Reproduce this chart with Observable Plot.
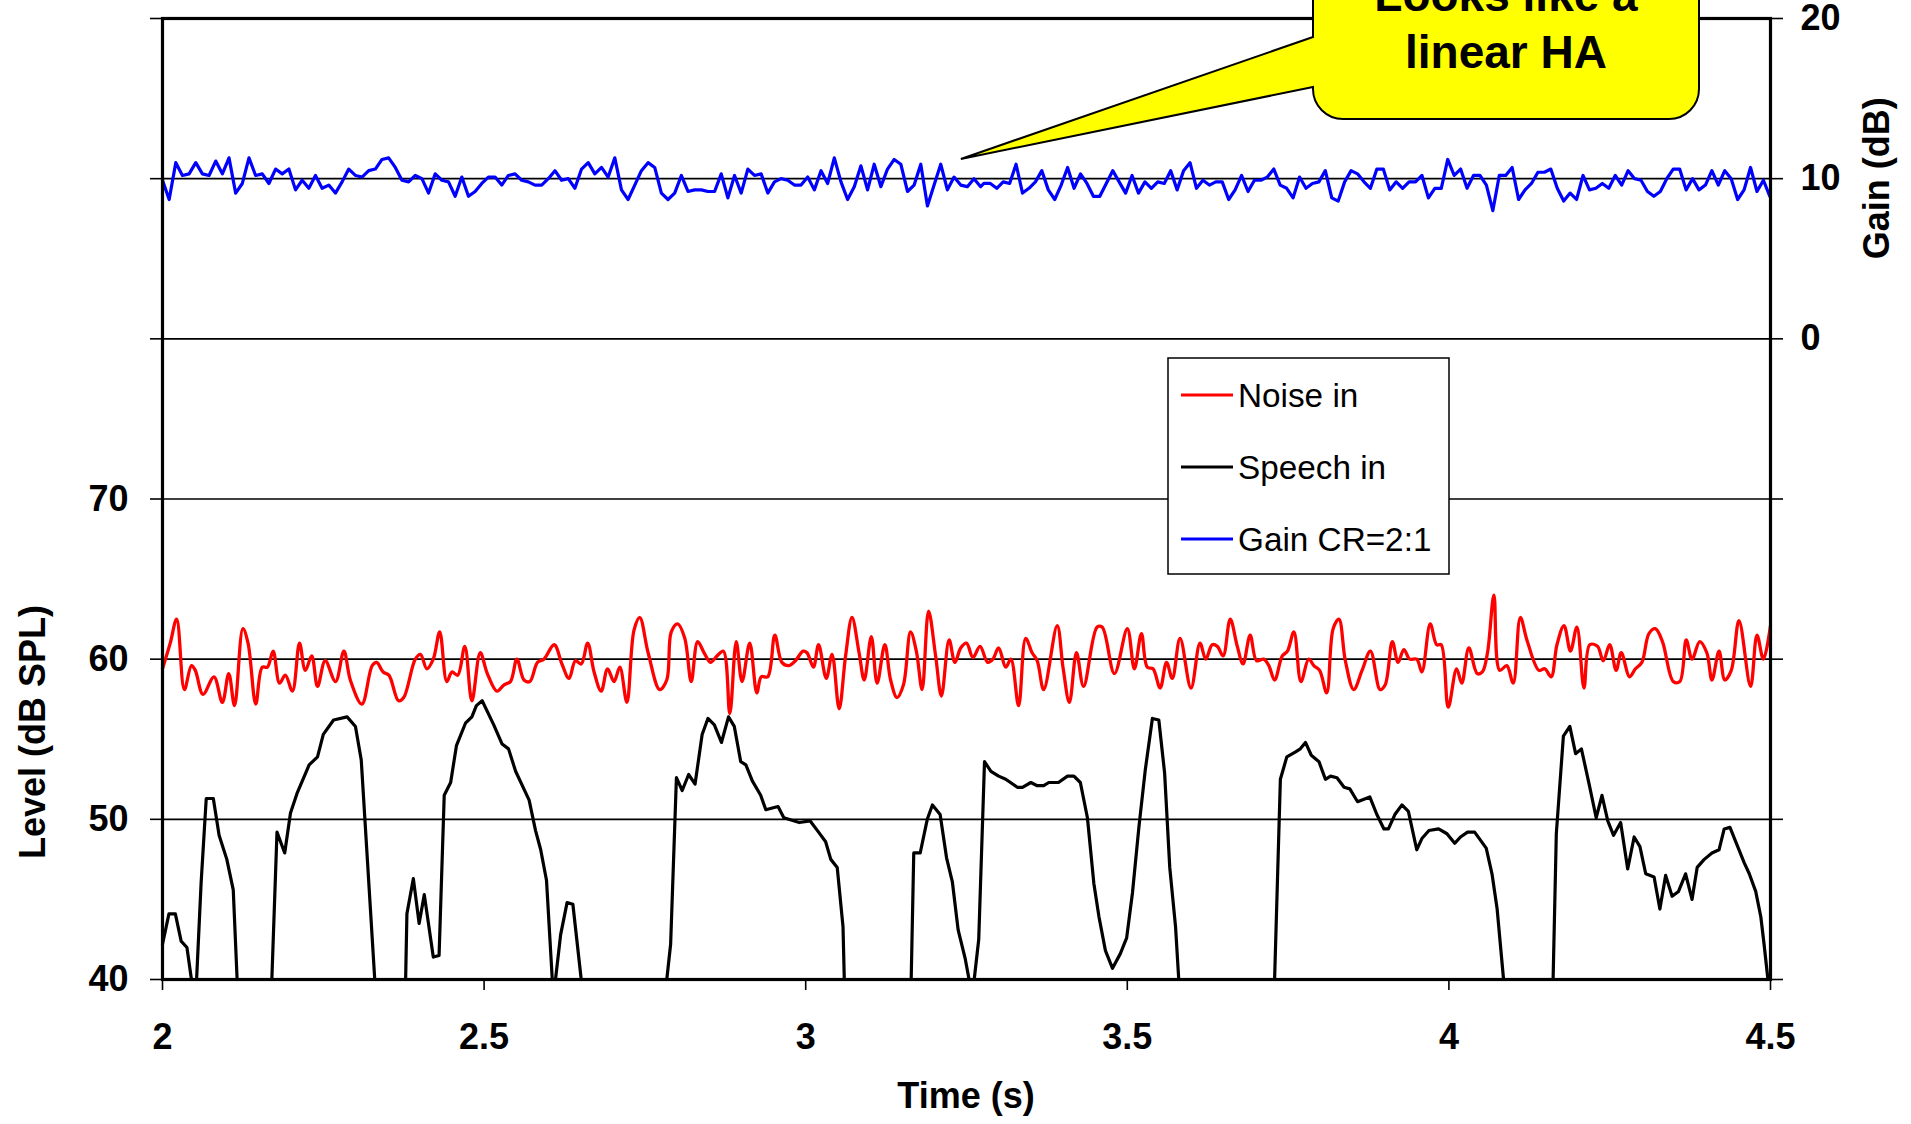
<!DOCTYPE html>
<html><head><meta charset="utf-8">
<script src="https://cdn.jsdelivr.net/npm/d3@7"></script>
<script src="https://cdn.jsdelivr.net/npm/@observablehq/plot@0.6"></script>
<style>
html,body{margin:0;padding:0;background:#fff;}
#chart svg{display:block;}
</style>
</head><body><div id="chart"></div>
<script>
// ---- data ----
const levelTicks = [40, 50, 60, 70];          // labelled ticks of the left axis (dB SPL)
const gainTicks = [0, 10, 20];                 // labelled ticks of the right axis (dB)
const timeTicks = [2, 2.5, 3, 3.5, 4, 4.5];    // x axis ticks (s)
const gridLevels = [50, 60, 70, 80, 90];
const gainOffset = 80;                          // 0 dB gain sits at 80 dB SPL

// Gain CR=2:1 (dB), sampled evenly over two spans
const gainASpan = [2.000, 3.272];
const gainA = [9.9,8.7,11.0,10.2,10.3,11.0,10.3,10.2,11.1,10.3,
11.3,9.1,9.7,11.3,10.2,10.3,9.7,10.6,10.3,10.6,
9.3,9.9,9.4,10.2,9.4,9.6,9.1,9.8,10.6,10.2,
10.1,10.5,10.6,11.2,11.3,10.7,9.9,9.8,10.2,10.0,
9.1,10.3,9.9,9.8,8.9,10.1,8.9,9.2,9.7,10.1,
10.1,9.6,10.2,10.3,9.9,9.8,9.6,9.6,10.0,10.5,
9.9,10.0,9.4,10.6,11.0,10.3,10.7,10.1,11.3,9.3,
8.7,9.6,10.5,11.0,10.7,9.1,8.7,9.1,10.2,9.2,
9.3,9.3,9.2,9.2,10.3,8.8,10.2,9.1,10.6,10.2,
10.3,9.1,9.8,10.0,9.9,9.6,9.6,10.1,9.3,10.5,
9.7,11.3,9.8,8.7,9.5,10.8,9.3,10.9,9.5,10.6,
11.2,10.9,9.2,9.6,10.9,8.3,9.6,10.9,9.3,10.1,
9.6,9.5,10.0,9.5];
const gainBSpan = [3.277, 4.499];
const gainB = [9.7,9.7,9.4,9.8,9.7,10.9,9.1,9.4,9.8,10.5,
9.3,8.7,9.6,10.7,9.4,10.3,9.7,8.9,8.9,9.7,
10.5,9.8,9.1,10.2,9.1,9.8,9.4,9.8,9.7,10.5,
9.3,10.5,11.0,9.4,9.9,9.6,9.8,9.8,8.7,9.3,
10.2,9.2,9.9,9.9,10.1,10.6,9.6,9.4,8.8,10.1,
9.4,9.7,9.8,10.5,8.8,8.6,9.8,10.5,10.3,9.8,
9.4,10.6,10.6,9.3,9.8,9.4,9.8,9.8,10.2,8.8,
9.4,9.4,11.2,10.2,10.6,9.4,10.2,10.2,9.6,8.0,
10.2,10.2,10.7,8.7,9.3,9.7,10.4,10.4,10.6,9.4,
8.6,9.1,8.7,10.2,9.3,9.4,9.7,9.4,10.2,9.6,
10.5,10.0,9.9,9.2,8.9,9.2,10.0,10.6,10.6,9.3,
10.0,9.3,9.6,10.5,9.6,10.5,10.0,8.7,9.3,10.7,
9.2,9.9,8.9];

// Noise in: [time s, level dB SPL] (turning points of the smoothed curve)
const noise = [[2.000,59.4],[2.012,61.0],[2.022,62.5],[2.034,58.1],[2.045,59.6],[2.051,59.3],[2.063,57.8],[2.080,58.9],[2.093,57.3],[2.103,59.1],
[2.112,57.1],[2.125,61.9],[2.133,61.0],[2.145,57.2],[2.155,59.5],[2.163,59.5],[2.172,60.5],[2.182,58.5],[2.191,59.0],[2.202,58.0],
[2.213,61.0],[2.222,59.3],[2.232,60.2],[2.241,58.3],[2.253,59.9],[2.269,58.6],[2.282,60.5],[2.292,58.7],[2.310,57.2],[2.326,59.6],
[2.333,59.8],[2.343,59.2],[2.352,59.0],[2.367,57.4],[2.375,57.6],[2.393,60.0],[2.401,60.3],[2.411,59.4],[2.421,60.0],[2.431,61.7],
[2.442,58.6],[2.450,59.2],[2.459,59.0],[2.470,60.8],[2.481,57.4],[2.494,60.4],[2.505,59.1],[2.520,58.0],[2.531,58.4],[2.541,58.6],
[2.551,60.0],[2.562,58.7],[2.571,58.6],[2.583,59.8],[2.593,60.0],[2.609,60.9],[2.621,59.7],[2.632,58.8],[2.642,59.9],[2.651,59.7],
[2.661,61.0],[2.671,59.2],[2.682,58.0],[2.692,59.4],[2.702,58.6],[2.711,59.5],[2.722,57.3],[2.733,61.8],[2.742,62.6],[2.755,60.4],
[2.773,58.1],[2.784,58.7],[2.791,61.7],[2.801,62.2],[2.812,61.3],[2.822,58.6],[2.832,61.1],[2.842,60.4],[2.852,59.8],[2.862,60.2],
[2.872,60.5],[2.882,56.6],[2.892,61.1],[2.901,58.6],[2.913,61.0],[2.924,57.9],[2.931,58.9],[2.941,58.9],[2.952,61.5],[2.963,59.8],
[2.974,59.6],[2.984,59.9],[2.996,60.5],[3.002,60.4],[3.012,59.5],[3.020,60.9],[3.032,58.8],[3.041,60.3],[3.052,56.9],[3.062,60.2],
[3.072,62.6],[3.083,60.4],[3.091,58.7],[3.102,61.4],[3.111,58.5],[3.123,60.9],[3.132,58.7],[3.142,57.6],[3.152,58.4],[3.163,61.7],
[3.172,60.5],[3.181,58.1],[3.191,63.0],[3.202,60.2],[3.211,57.7],[3.223,61.2],[3.232,59.8],[3.241,60.7],[3.250,61.0],[3.260,60.1],
[3.271,60.8],[3.283,59.8],[3.291,60.0],[3.300,60.7],[3.311,59.5],[3.319,60.0],[3.331,57.1],[3.342,61.3],[3.352,60.4],[3.360,59.9],
[3.370,58.1],[3.391,62.1],[3.400,59.5],[3.410,57.3],[3.421,60.4],[3.432,58.3],[3.453,62.0],[3.461,62.0],[3.480,59.1],[3.500,61.9],
[3.511,59.4],[3.522,61.6],[3.531,59.5],[3.540,59.4],[3.551,58.2],[3.561,59.8],[3.570,58.8],[3.582,61.3],[3.599,58.2],[3.613,61.0],
[3.622,60.0],[3.632,60.9],[3.640,60.8],[3.649,60.2],[3.660,62.5],[3.671,60.8],[3.680,59.7],[3.691,61.5],[3.701,59.9],[3.712,60.0],
[3.720,59.6],[3.729,58.7],[3.741,60.2],[3.749,60.5],[3.759,61.7],[3.770,58.6],[3.782,60.0],[3.790,59.6],[3.799,59.3],[3.810,57.9],
[3.820,61.9],[3.829,62.5],[3.839,59.9],[3.852,58.1],[3.865,59.3],[3.878,60.5],[3.893,58.1],[3.901,58.4],[3.912,61.1],[3.921,59.8],
[3.930,60.6],[3.939,60.0],[3.950,60.0],[3.958,59.2],[3.971,62.2],[3.981,60.9],[3.988,60.9],[3.999,57.0],[4.012,59.4],[4.020,58.5],
[4.031,60.7],[4.044,59.1],[4.052,59.2],[4.060,60.4],[4.070,64.0],[4.079,59.3],[4.090,59.6],[4.100,58.5],[4.111,62.6],[4.122,61.1],
[4.140,59.3],[4.149,59.4],[4.159,58.9],[4.168,60.9],[4.179,62.1],[4.189,60.5],[4.199,62.0],[4.210,58.2],[4.219,60.9],[4.231,60.8],
[4.240,59.9],[4.250,60.9],[4.260,59.3],[4.268,60.4],[4.281,58.9],[4.290,59.4],[4.300,59.8],[4.311,61.6],[4.321,61.9],[4.332,61.1],
[4.349,58.6],[4.359,58.6],[4.369,61.2],[4.378,60.0],[4.390,61.1],[4.401,60.4],[4.409,58.7],[4.420,60.5],[4.429,58.7],[4.439,59.3],
[4.451,62.4],[4.469,58.3],[4.479,61.5],[4.489,60.0],[4.500,62.1]];

// Speech in: [time s, level dB SPL]; 40 = floor of the axis
const speech = [[2.000,42.2],[2.010,44.1],[2.020,44.1],[2.029,42.4],[2.038,42.0],[2.045,40],[2.053,40],[2.060,46.0],[2.068,51.3],[2.079,51.3],
[2.088,49.0],[2.100,47.5],[2.110,45.6],[2.116,40],[2.170,40],[2.178,49.2],[2.190,47.9],[2.199,50.4],[2.209,51.6],[2.228,53.4],
[2.241,53.9],[2.250,55.3],[2.266,56.2],[2.287,56.4],[2.300,55.8],[2.309,53.7],[2.330,40],[2.378,40],[2.380,44.1],[2.390,46.3],
[2.399,43.5],[2.407,45.3],[2.421,41.4],[2.430,41.5],[2.438,51.5],[2.448,52.3],[2.457,54.6],[2.471,56.0],[2.481,56.4],[2.488,57.1],
[2.497,57.4],[2.515,55.9],[2.528,54.7],[2.538,54.4],[2.549,53.0],[2.570,51.2],[2.580,49.3],[2.588,48.1],[2.597,46.2],[2.606,40],
[2.611,40],[2.619,42.8],[2.629,44.8],[2.638,44.7],[2.651,40],[2.784,40],[2.790,42.2],[2.799,52.6],[2.808,51.8],[2.818,52.8],
[2.828,52.2],[2.839,55.3],[2.848,56.3],[2.858,55.9],[2.869,54.8],[2.880,56.4],[2.889,55.8],[2.899,53.6],[2.907,53.4],[2.917,52.4],
[2.930,51.5],[2.938,50.6],[2.957,50.8],[2.966,50.1],[2.990,49.8],[3.007,49.9],[3.020,49.2],[3.031,48.6],[3.039,47.5],[3.049,47.0],
[3.058,43.3],[3.060,40],[3.164,40],[3.168,47.9],[3.178,47.9],[3.189,50.0],[3.197,50.9],[3.209,50.3],[3.219,47.6],[3.228,46.1],
[3.237,43.1],[3.248,41.3],[3.254,40],[3.262,40],[3.269,42.5],[3.278,53.6],[3.288,53.0],[3.300,52.7],[3.311,52.5],[3.329,52.0],
[3.337,52.0],[3.350,52.3],[3.360,52.1],[3.370,52.1],[3.378,52.3],[3.393,52.3],[3.407,52.7],[3.417,52.7],[3.427,52.3],[3.438,50.1],
[3.448,46.0],[3.456,43.9],[3.466,41.8],[3.477,40.7],[3.489,41.6],[3.499,42.6],[3.508,45.4],[3.518,49.5],[3.528,53.1],[3.539,56.3],
[3.549,56.2],[3.558,52.9],[3.566,47.0],[3.575,43.3],[3.580,40],[3.729,40],[3.738,52.5],[3.748,53.9],[3.761,54.2],[3.769,54.4],
[3.777,54.8],[3.786,54.0],[3.798,53.6],[3.808,52.5],[3.816,52.7],[3.826,52.6],[3.837,52.0],[3.846,51.9],[3.858,51.1],[3.877,51.4],
[3.888,50.3],[3.899,49.4],[3.906,49.4],[3.916,50.3],[3.927,50.9],[3.937,50.5],[3.950,48.1],[3.958,48.8],[3.969,49.3],[3.984,49.4],
[3.997,49.1],[4.009,48.5],[4.018,48.9],[4.029,49.2],[4.040,49.2],[4.049,48.7],[4.058,48.2],[4.067,46.6],[4.075,44.4],[4.085,40],
[4.162,40],[4.167,49.1],[4.178,55.2],[4.188,55.8],[4.197,54.1],[4.206,54.4],[4.218,52.2],[4.229,50.1],[4.238,51.5],[4.247,49.9],
[4.256,49.0],[4.267,49.8],[4.278,46.9],[4.288,48.9],[4.297,48.3],[4.306,46.6],[4.319,46.4],[4.328,44.4],[4.337,46.5],[4.347,45.2],
[4.357,45.5],[4.368,46.6],[4.378,45.0],[4.386,47.0],[4.397,47.5],[4.409,47.9],[4.420,48.1],[4.428,49.4],[4.437,49.5],[4.447,48.5],
[4.459,47.3],[4.467,46.6],[4.477,45.5],[4.485,43.9],[4.490,42.2],[4.496,40],[4.500,40]];

const seriesNames = ["Noise in", "Speech in", "Gain CR=2:1"];
const seriesColors = ["#ff0000", "#000000", "#0000ff"];
const callout = {lines: ["Looks like a", "linear HA"], t: 3.242, gain: 11.2};

// ---- build rows ----
const spread = (vals, [t0, t1]) => vals.map((g, i) => ({t: t0 + i * (t1 - t0) / (vals.length - 1), level: g + gainOffset}));
const gainRows = [...spread(gainA, gainASpan), ...spread(gainB, gainBSpan)];
const noiseRows = noise.map(([t, level]) => ({t, level}));
const speechRows = speech.map(([t, level]) => ({t, level}));

const FONT = "'Liberation Sans', Arial, Helvetica, sans-serif";
const allTicks = d3.range(40, 101, 10);

const chart = Plot.plot({
  width: 1911, height: 1124,
  marginLeft: 162, marginRight: 141, marginTop: 18, marginBottom: 145,
  style: {fontFamily: FONT, background: "white", color: "black"},
  x: {domain: [2, 4.5]},
  y: {domain: [40, 100]},
  marks: [
    Plot.ruleY(gridLevels, {stroke: "black", strokeWidth: 1.6}),
    Plot.axisY(allTicks, {anchor: "left", tickSize: 12, tickPadding: 22, strokeWidth: 1.6,
      tickFormat: d => levelTicks.includes(d) ? String(d) : "", fontSize: 36, fontWeight: "bold", label: null}),
    Plot.axisY(allTicks, {anchor: "right", tickSize: 12, tickPadding: 18, strokeWidth: 1.6,
      tickFormat: d => gainTicks.includes(d - gainOffset) ? String(d - gainOffset) : "", fontSize: 36, fontWeight: "bold", label: null}),
    Plot.axisX(timeTicks, {anchor: "bottom", tickSize: 11, tickPadding: 33, strokeWidth: 1.6,
      tickFormat: d => String(d), fontSize: 36, fontWeight: "bold", label: null}),
    Plot.line(speechRows, {x: "t", y: "level", stroke: seriesColors[1], strokeWidth: 3.2}),
    Plot.line(noiseRows, {x: "t", y: "level", stroke: seriesColors[0], strokeWidth: 3.3, curve: "catmull-rom"}),
    Plot.line(gainRows, {x: "t", y: "level", stroke: seriesColors[2], strokeWidth: 3.2}),
    Plot.frame({stroke: "black", strokeWidth: 3.2})
  ]
});
document.getElementById("chart").appendChild(chart);

// ---- annotations: axis titles, legend, callout ----
const svg = d3.select(chart);
const xs = chart.scale("x"), ys = chart.scale("y");

svg.append("text").attr("x", (xs.apply(2) + xs.apply(4.5)) / 2).attr("y", 1108)
  .attr("text-anchor", "middle").attr("font-size", 36).attr("font-weight", "bold")
  .attr("font-family", FONT).text("Time (s)");
svg.append("text").attr("transform", `translate(45,732) rotate(-90)`)
  .attr("text-anchor", "middle").attr("font-size", 36).attr("font-weight", "bold")
  .attr("font-family", FONT).text("Level (dB SPL)");
svg.append("text").attr("transform", `translate(1889,${ys.apply(gainOffset + 10)}) rotate(-90)`)
  .attr("text-anchor", "middle").attr("font-size", 36).attr("font-weight", "bold")
  .attr("font-family", FONT).text("Gain (dB)");

// legend
const lg = svg.append("g");
lg.append("rect").attr("x", 1168).attr("y", 358).attr("width", 281).attr("height", 216)
  .attr("fill", "white").attr("stroke", "black").attr("stroke-width", 1.5);
seriesNames.forEach((name, i) => {
  const yy = 395 + i * 72;
  lg.append("line").attr("x1", 1181).attr("x2", 1233).attr("y1", yy).attr("y2", yy)
    .attr("stroke", seriesColors[i]).attr("stroke-width", 3);
  lg.append("text").attr("x", 1238).attr("y", yy + 12).attr("font-size", 33.3)
    .attr("text-anchor", "start").attr("font-family", FONT).attr("fill", "black").text(name);
});

// callout
const tipX = xs.apply(callout.t), tipY = ys.apply(callout.gain + gainOffset);
const bx0 = 1313, bx1 = 1699, by1 = 119, r = 30, byTop = -80, py0 = 37, py1 = 87;
const d = `M${bx0},${py0} L${tipX},${tipY} L${bx0},${py1} L${bx0},${by1 - r} A${r},${r} 0 0 0 ${bx0 + r},${by1} ` +
          `L${bx1 - r},${by1} A${r},${r} 0 0 0 ${bx1},${by1 - r} L${bx1},${byTop} L${bx0},${byTop} Z`;
svg.append("path").attr("d", d).attr("fill", "#ffff00").attr("stroke", "black").attr("stroke-width", 2).attr("stroke-linejoin", "miter");
callout.lines.forEach((s, i) => {
  svg.append("text").attr("x", (bx0 + bx1) / 2).attr("y", 11 + i * 57).attr("text-anchor", "middle")
    .attr("font-size", 46).attr("font-weight", "bold").attr("font-family", FONT).attr("fill", "black").text(s);
});
</script>
</body></html>
